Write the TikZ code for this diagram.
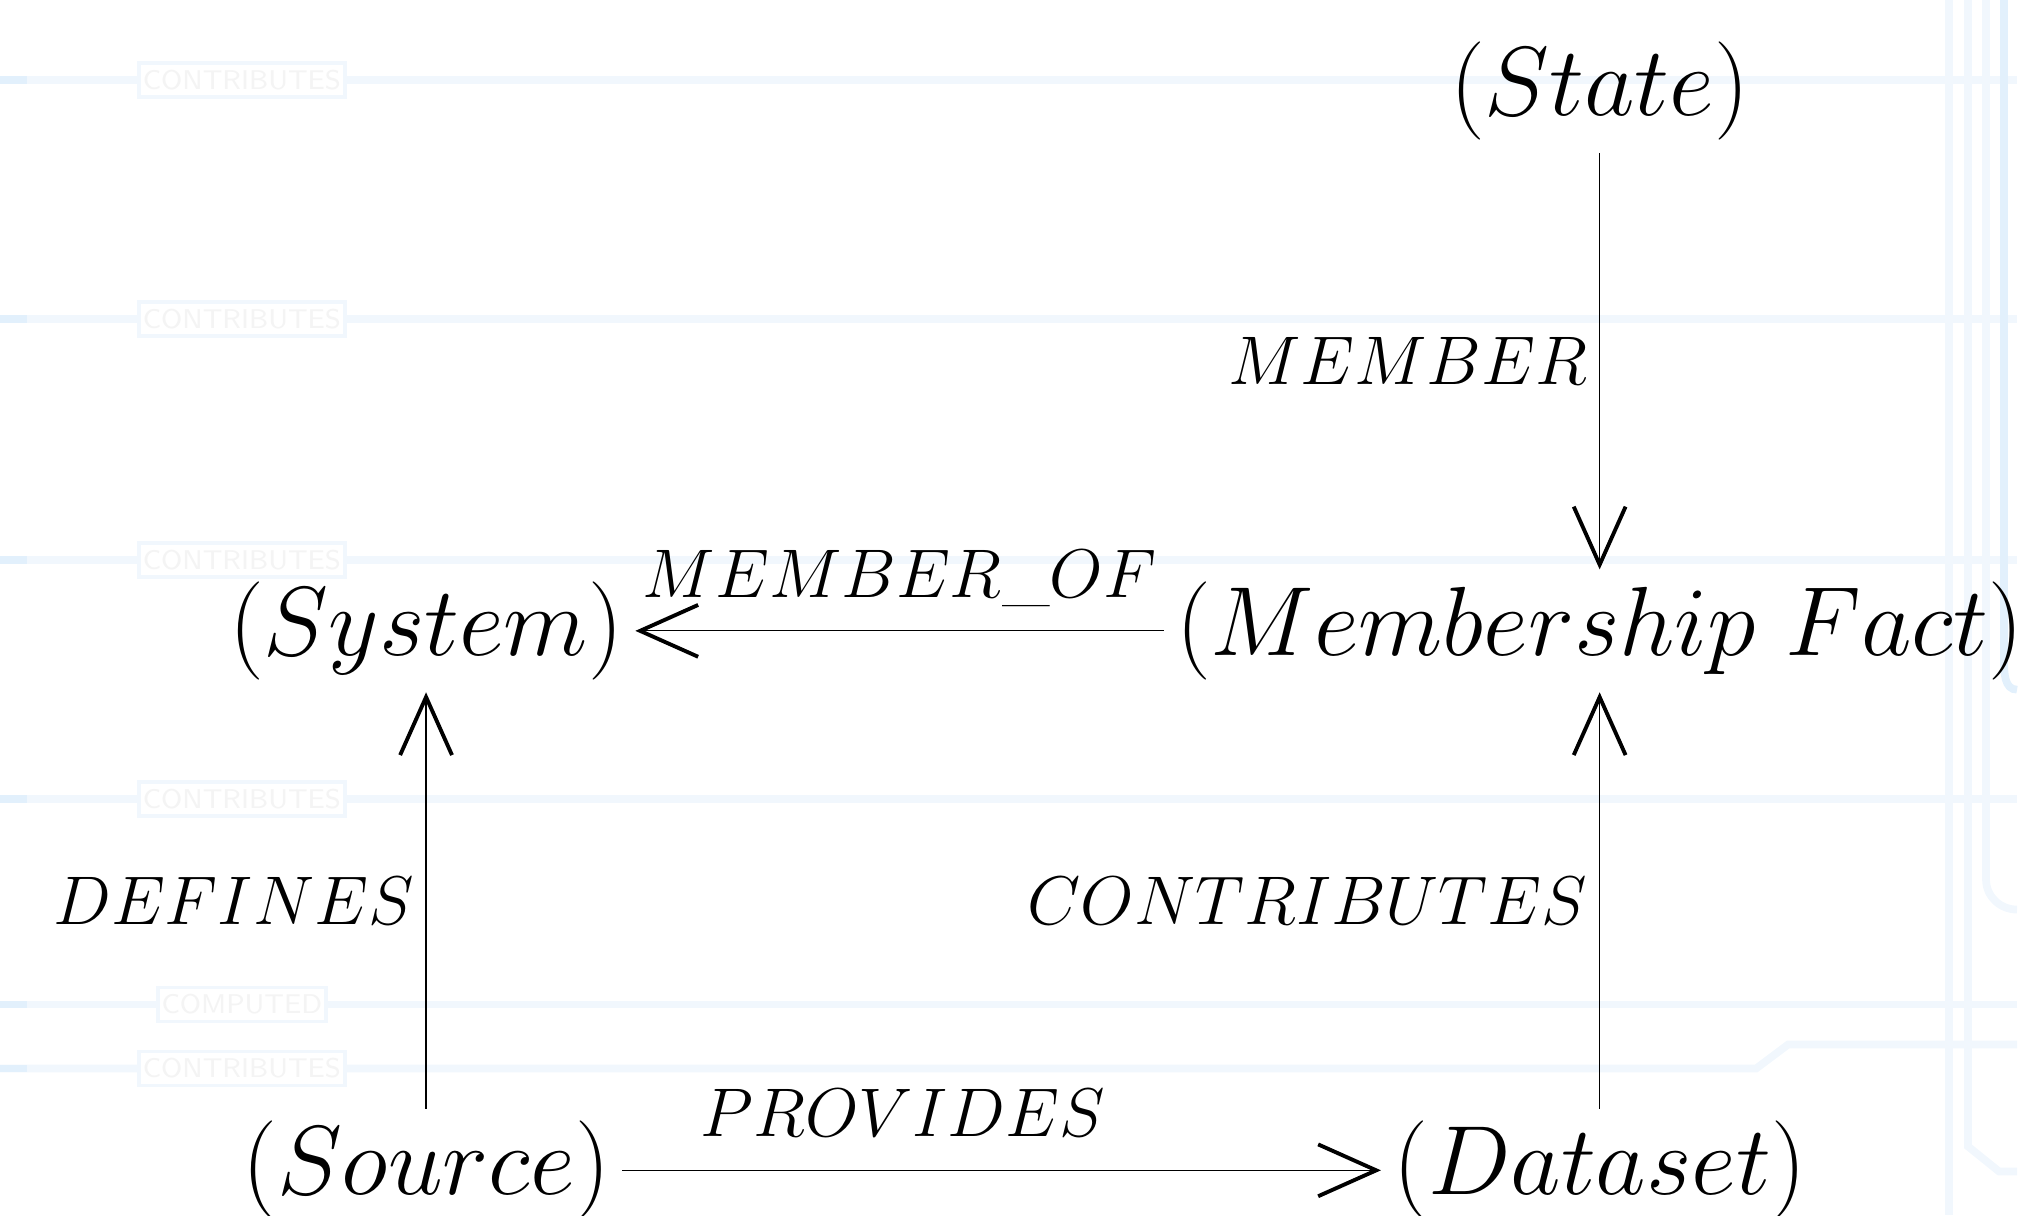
\RequirePackage{fix-cm}
\documentclass[tikz,border=0pt]{standalone}
\usepackage{amsmath}
\usepackage{tikz}
\usetikzlibrary{arrows.meta, positioning}
\definecolor{gridblue}{RGB}{241,247,253}
\definecolor{griddark}{RGB}{226,240,252}
\definecolor{gridtext}{RGB}{244,244,244}

\begin{document}
\begin{tikzpicture}[>={Straight Barb[length=15pt, width=13.4pt, line width=1pt]},
    obj/.style={inner sep=3pt, font=\fontsize{25.4pt}{30pt}\selectfont},
    rel/.style={inner sep=3pt, font=\fontsize{17.8pt}{22pt}\selectfont},
    link/.style={->, line width=0.3pt},
    bgline/.style={draw=gridblue, line width=2pt},
    bgstub/.style={draw=griddark, line width=2pt},
    bgtag/.style={draw=gridblue, line width=1pt, fill=white, text=gridtext,
      font=\sffamily\fontsize{7pt}{8pt}\selectfont, minimum height=34*0.00908cm, inner sep=1pt}]
  \useasboundingbox (0,0) rectangle (18.33,-11.045);

  \begin{scope}[x=0.00908cm, y=-0.00908cm]
    \foreach \y in {80,319,560,799,1005} {
      \draw[bgline] (0,\y) -- (2018,\y);
      \draw[bgstub] (0,\y) -- (27,\y);
    }
    \draw[bgline] (0,1069) -- (1757,1069) -- (1789,1045) -- (2018,1045);
    \draw[bgstub] (0,1069) -- (27,1069);
    \draw[bgline] (1950,0) -- (1950,1216);
    \draw[bgline] (1969,0) -- (1969,1147) -- (2000,1172) -- (2018,1172);
    \draw[bgline] (1987,0) -- (1987,880) to[out=-90, in=180] (2018,910);
    \draw[bgstub] (2005,0) -- (2005,660) to[out=-90, in=180] (2018,690);
    \foreach \y/\txt/\w in {80/CONTRIBUTES/198, 319/CONTRIBUTES/198, 560/CONTRIBUTES/198,
        799/CONTRIBUTES/198, 1005/COMPUTED/164, 1069/CONTRIBUTES/198}
      \node[bgtag, minimum width=\w*0.00908cm] (tag\y) at (242,\y) {\txt};
  \end{scope}

  \node[obj] (state) at (14.53,-0.83) {$(State)$};
  \node[obj, below=4.9cm of state.center, anchor=center] (fact) {$(Membership\ Fact)$};
  \node[obj, left=10.66cm of fact.center, anchor=center] (system) {$(System)$};
  \node[obj, below=4.9cm of fact.center, anchor=center] (dataset) {$(Dataset)$};
  \node[obj, below=4.9cm of system.center, anchor=center] (source) {$(Source)$};

  \draw[link] (state) -- node[rel, left] {$MEMBER$} (fact);
  \draw[link] (fact) -- node[rel, above=3pt] {$MEMBER\_OF$} (system);
  \draw[link] (source) -- node[rel, left] {$DEFINES$} (system);
  \draw[link] (source) -- node[rel, above=5.5pt, pos=0.37] {$PROVIDES$} (dataset);
  \draw[link] (dataset) -- node[rel, left] {$CONTRIBUTES$} (fact);
\end{tikzpicture}
\end{document}
